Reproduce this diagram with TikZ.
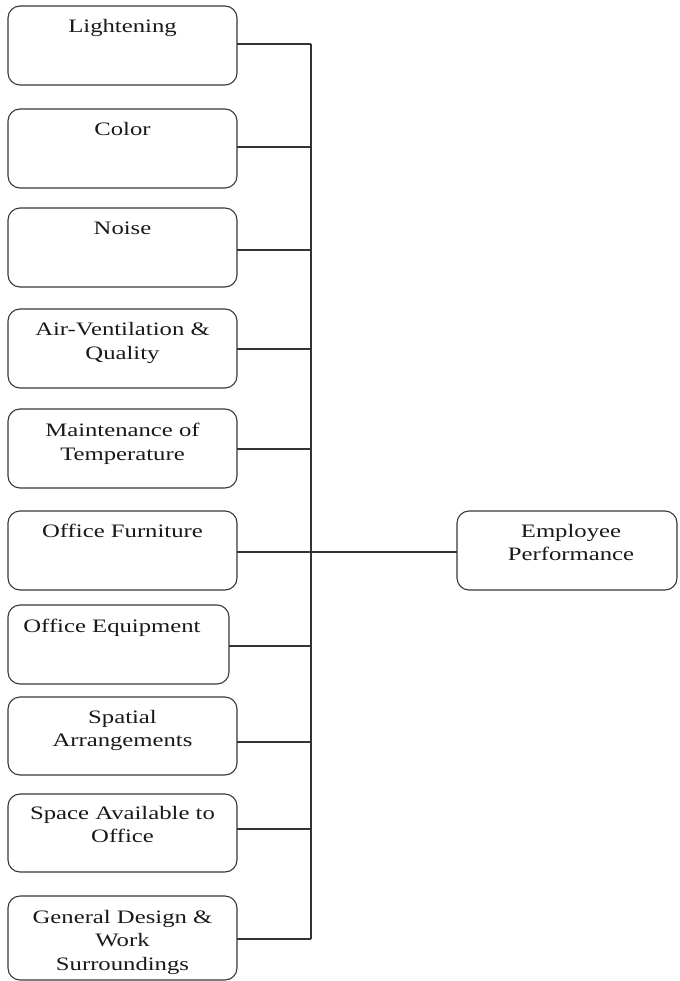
\documentclass[tikz,border=0pt]{standalone}
\usepackage{fontspec}
\setmainfont{Liberation Serif}[FakeStretch=1.3]
\newcommand{\lines}[1]{\begin{tabular}[t]{@{}c@{}}#1\end{tabular}}
\begin{document}
\begin{tikzpicture}[x=1pt,y=-1pt,
  box/.style={draw=black!78, line width=1.1pt, rounded corners=12pt,
              inner sep=0pt, outer sep=0pt, minimum width=229pt, minimum height=79pt},
  label text/.style={anchor=base, inner sep=0pt, text=black!90,
              font=\fontsize{19}{23.5}\selectfont},
  wire/.style={draw=black!80, line width=1.1pt}]
\useasboundingbox (0,0) rectangle (679,981);

% factor boxes on the left
\node[box] (b1) at (122.5,45.5) {};
\node[box] (b2) at (122.5,148.5) {};
\node[box] (b3) at (122.5,247.5) {};
\node[box] (b4) at (122.5,348.5) {};
\node[box] (b5) at (122.5,448.5) {};
\node[box] (b6) at (122.5,550.5) {};
\node[box, minimum width=221pt] (b7) at (118.5,644.5) {};
\node[box, minimum height=78pt] (b8) at (122.5,736) {};
\node[box, minimum height=78pt] (b9) at (122.5,833) {};
\node[box, minimum height=84pt] (b10) at (122.5,938) {};
% outcome box on the right
\node[box, minimum width=220pt] (emp) at (567,550.5) {};

% box captions, first baseline a fixed distance below each top edge
\node[label text] (t1) at ([yshift=-26.5pt]b1.north) {Lightening};
\node[label text] (t2) at ([yshift=-26.5pt]b2.north) {Color};
\node[label text] (t3) at ([yshift=-26.5pt]b3.north) {Noise};
\node[label text] (t4) at ([yshift=-26.5pt]b4.north) {\lines{Air-Ventilation \&\\Quality}};
\node[label text] (t5) at ([yshift=-27.5pt]b5.north) {\lines{Maintenance of\\Temperature}};
\node[label text] (t6) at ([yshift=-26.5pt]b6.north) {Office Furniture};
\node[label text] (t7) at ([xshift=-6.5pt,yshift=-27pt]b7.north) {Office Equipment};
\node[label text] (t8) at ([yshift=-26pt]b8.north) {\lines{Spatial\\Arrangements}};
\node[label text] (t9) at ([yshift=-25pt]b9.north) {\lines{Space Available to\\Office}};
\node[label text] (t10) at ([yshift=-27pt]b10.north) {\lines{General Design \&\\Work\\Surroundings}};
\node[label text] (temp) at ([xshift=4pt,yshift=-26pt]emp.north) {\lines{Employee\\Performance}};

% vertical bus collecting all factors
\coordinate (bus) at (311,0);
\path (b1.east)  ++(0,-1.5) coordinate (c1);
\path (b2.east)  ++(0,-1.5) coordinate (c2);
\path (b3.east)  ++(0,2.5)  coordinate (c3);
\path (b4.east)  ++(0,0.5)  coordinate (c4);
\path (b5.east)  ++(0,0.5)  coordinate (c5);
\path (b6.east)  ++(0,1.5)  coordinate (c6);
\path (b7.east)  ++(0,1.5)  coordinate (c7);
\path (b8.east)  ++(0,6)    coordinate (c8);
\path (b9.east)  ++(0,-4)   coordinate (c9);
\path (b10.east) ++(0,1)    coordinate (c10);

\draw[wire] (c1 -| bus) -- (c10 -| bus);
\foreach \i in {1,...,10} {
  \draw[wire] (c\i) -- (c\i -| bus);
}
\draw[wire] (c6 -| bus) -- (c6 -| emp.west);
\end{tikzpicture}
\end{document}
